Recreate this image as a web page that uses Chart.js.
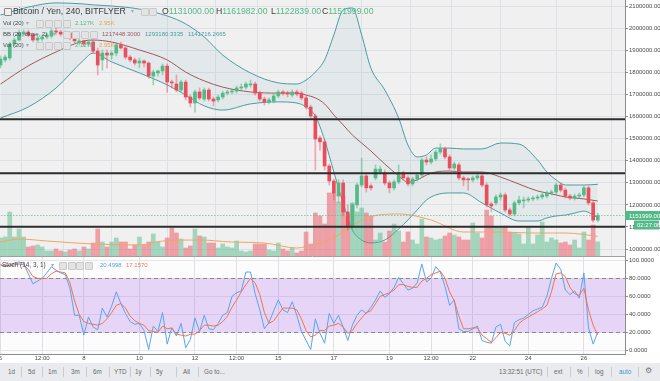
<!DOCTYPE html>
<html><head><meta charset="utf-8">
<script src="https://cdn.jsdelivr.net/npm/chart.js@4.4.0/dist/chart.umd.min.js"></script>
<style>
html,body{margin:0;padding:0;background:#fff;width:660px;height:381px;overflow:hidden;}
#wrap{position:relative;width:660px;height:381px;font-family:"Liberation Sans",Arial,sans-serif;}
canvas{position:absolute;left:0;}
#pc{top:0;}
#sc{top:257px;}
.t{position:absolute;white-space:nowrap;line-height:1;color:#4a4a4a;}
.s{font-size:6px;}
.ib{position:absolute;width:6px;height:6px;border:1px solid #c9c9c9;background:#e3e3e3;border-radius:1px;}
.tb{position:absolute;white-space:nowrap;line-height:1;color:#6a6a6a;font-size:6.3px;top:369px;}
.sep{position:absolute;top:367px;width:1px;height:10px;background:#c8cace;}
</style></head>
<body><div id="wrap">
<canvas id="pc" width="660" height="257"></canvas>
<canvas id="sc" width="660" height="105"></canvas>

<!-- legend row 1 -->
<div class="ib" style="left:4px;top:8px;background:#f0f0f0;border-color:#888;"></div>
<div class="t" style="left:13px;top:6.5px;font-size:8.7px;color:#3a3a3a;">Bitcoin / Yen, 240, BITFLYER</div>
<div class="t" style="left:131px;top:8px;font-size:6px;color:#aaa;">▾</div>
<div class="ib" style="left:141px;top:8px;"></div><div class="ib" style="left:149px;top:8px;"></div>
<div class="t" style="left:162px;top:6.5px;font-size:8.7px;color:#3a3a3a;">O<span style="color:#53b987">1131000.00</span></div>
<div class="t" style="left:216px;top:6.5px;font-size:8.7px;color:#3a3a3a;">H<span style="color:#53b987">1161982.00</span></div>
<div class="t" style="left:271px;top:6.5px;font-size:8.7px;color:#3a3a3a;">L<span style="color:#53b987">1122839.00</span></div>
<div class="t" style="left:322px;top:6.5px;font-size:8.7px;color:#3a3a3a;">C<span style="color:#53b987">1151999.00</span></div>
<!-- row 2 -->
<div class="t s" style="left:3px;top:20px;">Vol (20)</div>
<div class="t s" style="left:26px;top:20px;color:#aaa;">▾</div>
<div class="ib" style="left:36px;top:19.5px;"></div><div class="ib" style="left:45px;top:19.5px;"></div><div class="ib" style="left:54px;top:19.5px;"></div><div class="ib" style="left:63px;top:19.5px;"></div>
<div class="t s" style="left:75px;top:20px;color:#53b987;">2.127K</div>
<div class="t s" style="left:99px;top:20px;color:#f0a050;">2.95K</div>
<!-- row 3 -->
<div class="t s" style="left:3px;top:31px;">BB (20, close, 2)</div>
<div class="t s" style="left:53px;top:31px;color:#aaa;">▾</div>
<div class="ib" style="left:63px;top:30.5px;"></div><div class="ib" style="left:72px;top:30.5px;"></div><div class="ib" style="left:81px;top:30.5px;"></div><div class="ib" style="left:90px;top:30.5px;"></div>
<div class="t s" style="left:102px;top:31px;color:#a0585a;">1217448.3000</div>
<div class="t s" style="left:145px;top:31px;color:#4a9da3;">1293180.3335</div>
<div class="t s" style="left:188px;top:31px;color:#4a9da3;">1141716.2665</div>
<!-- row 4 -->
<div class="t s" style="left:3px;top:42px;">Vol (20)</div>
<div class="t s" style="left:26px;top:42px;color:#aaa;">▾</div>
<div class="ib" style="left:36px;top:41.5px;"></div><div class="ib" style="left:45px;top:41.5px;"></div><div class="ib" style="left:54px;top:41.5px;"></div><div class="ib" style="left:63px;top:41.5px;"></div>
<div class="t s" style="left:75px;top:42px;color:#53b987;">2.127K</div>
<div class="t s" style="left:99px;top:42px;color:#f0a050;">2.95K</div>
<!-- stoch legend -->
<div class="t" style="left:2px;top:262px;font-size:6.4px;">Stoch (14, 3, 1)</div>
<div class="t s" style="left:51px;top:262px;color:#aaa;">▾</div>
<div class="ib" style="left:59px;top:261.5px;"></div><div class="ib" style="left:67.5px;top:261.5px;"></div><div class="ib" style="left:76px;top:261.5px;"></div><div class="ib" style="left:84.5px;top:261.5px;"></div>
<div class="t s" style="left:100px;top:262px;color:#4fa3f2;">20.4998</div>
<div class="t s" style="left:126px;top:262px;color:#f07a4e;">17.1570</div>

<!-- toolbar -->
<div style="position:absolute;left:0;top:363px;width:660px;height:18px;background:#e9ebee;"></div>
<div class="tb" style="left:8px;">1d</div><div class="sep" style="left:21px;"></div>
<div class="tb" style="left:28px;">5d</div><div class="sep" style="left:42px;"></div>
<div class="tb" style="left:48px;">1m</div><div class="sep" style="left:63px;"></div>
<div class="tb" style="left:71px;">3m</div><div class="sep" style="left:86px;"></div>
<div class="tb" style="left:93px;">6m</div><div class="sep" style="left:109px;"></div>
<div class="tb" style="left:114px;">YTD</div><div class="sep" style="left:130px;"></div>
<div class="tb" style="left:135px;">1y</div><div class="sep" style="left:150px;"></div>
<div class="tb" style="left:156px;">5y</div><div class="sep" style="left:176px;"></div>
<div class="tb" style="left:183px;">All</div><div class="sep" style="left:198px;"></div>
<div class="tb" style="left:204px;">Go to...</div>
<div class="tb" style="left:499px;">13:32:51 (UTC)</div><div class="sep" style="left:547px;"></div>
<div class="tb" style="left:554px;">ext</div><div class="sep" style="left:570px;"></div>
<div class="tb" style="left:577px;">%</div><div class="sep" style="left:588px;"></div>
<div class="tb" style="left:595px;">log</div><div class="sep" style="left:611px;"></div>
<div class="tb" style="left:619px;color:#3a9ad9;">auto</div><div class="sep" style="left:638px;"></div>
<div class="tb" style="left:645px;top:367px;font-size:8px;color:#777;">⚙</div>
</div>
<script>
// ---------------- DATA ----------------
const opens = [1833000,1856000,1865000,1928000,1946000,1973000,1982000,1969000,1946000,1951000,
1960000,1964000,1987000,1982000,1973000,1978000,1960000,1933000,1942000,1928000,
1937000,1896000,1856000,1887000,1878000,1887000,1924000,1910000,1869000,1856000,
1842000,1851000,1842000,1783000,1797000,1806000,1828000,1756000,1747000,1720000,
1756000,1688000,1661000,1711000,1679000,1720000,1679000,1675000,1688000,1706000,
1711000,1715000,1729000,1733000,1743000,1747000,1706000,1679000,1666000,1670000,
1693000,1711000,1706000,1697000,1711000,1706000,1684000,1643000,1602000,1503000,
1485000,1376000,1308000,1240000,1299000,1168000,1100000,1200000,1290000,1331000,
1286000,1322000,1349000,1344000,1299000,1277000,1304000,1344000,1322000,1295000,
1317000,1335000,1403000,1394000,1408000,1439000,1453000,1417000,1367000,1381000,
1322000,1317000,1313000,1322000,1331000,1290000,1204000,1209000,1236000,1245000,
1177000,1159000,1209000,1218000,1222000,1227000,1231000,1236000,1240000,1254000,
1258000,1290000,1267000,1240000,1231000,1240000,1245000,1277000,1209000,1131000];
const closes = [1860000,1869000,1928000,1946000,1978000,1982000,1969000,1946000,1955000,1960000,
1969000,1987000,1982000,1973000,1978000,1955000,1942000,1942000,1928000,1937000,
1896000,1833000,1887000,1878000,1887000,1924000,1910000,1869000,1856000,1842000,
1851000,1842000,1783000,1801000,1806000,1828000,1756000,1752000,1720000,1756000,
1688000,1661000,1711000,1684000,1720000,1679000,1670000,1688000,1706000,1711000,
1715000,1729000,1733000,1747000,1747000,1706000,1679000,1666000,1675000,1693000,
1711000,1706000,1702000,1711000,1702000,1684000,1643000,1602000,1498000,1485000,
1376000,1308000,1254000,1299000,1168000,1100000,1200000,1290000,1331000,1277000,
1277000,1362000,1362000,1299000,1277000,1304000,1344000,1322000,1295000,1317000,
1335000,1403000,1394000,1408000,1439000,1453000,1417000,1367000,1385000,1322000,
1313000,1313000,1322000,1331000,1290000,1200000,1195000,1236000,1245000,1177000,
1159000,1209000,1222000,1222000,1227000,1231000,1236000,1245000,1254000,1258000,
1290000,1267000,1240000,1231000,1240000,1245000,1277000,1209000,1131000,1151999];
const highs = [1874000,1878000,1937000,1955000,1991000,1991000,1991000,1978000,1964000,1969000,
1978000,1996000,2000000,1991000,1987000,1982000,1969000,1951000,1946000,1946000,
1946000,1910000,1901000,1901000,1896000,1933000,1937000,1919000,1878000,1865000,
1865000,1856000,1847000,1810000,1810000,1838000,1838000,1765000,1788000,1765000,
1765000,1697000,1720000,1729000,1729000,1729000,1688000,1697000,1715000,1720000,
1724000,1738000,1747000,1756000,1765000,1756000,1715000,1688000,1684000,1702000,
1720000,1720000,1715000,1720000,1720000,1715000,1693000,1652000,1611000,1512000,
1494000,1385000,1317000,1313000,1313000,1200000,1209000,1299000,1412000,1340000,
1295000,1381000,1376000,1358000,1308000,1313000,1381000,1353000,1331000,1326000,
1344000,1412000,1417000,1426000,1448000,1476000,1462000,1426000,1394000,1390000,
1331000,1322000,1331000,1340000,1340000,1299000,1213000,1245000,1254000,1254000,
1186000,1218000,1240000,1236000,1236000,1240000,1245000,1254000,1263000,1267000,
1299000,1299000,1277000,1249000,1249000,1254000,1286000,1286000,1218000,1161982];
const lows = [1820000,1847000,1856000,1919000,1942000,1964000,1960000,1937000,1937000,1942000,
1951000,1955000,1973000,1964000,1964000,1946000,1933000,1924000,1919000,1919000,
1887000,1788000,1810000,1820000,1860000,1874000,1905000,1860000,1847000,1833000,
1820000,1824000,1774000,1743000,1783000,1788000,1710000,1729000,1711000,1711000,
1675000,1643000,1620000,1675000,1670000,1670000,1648000,1666000,1679000,1697000,
1702000,1706000,1720000,1724000,1733000,1697000,1670000,1652000,1657000,1661000,
1684000,1697000,1688000,1688000,1693000,1675000,1634000,1593000,1358000,1448000,
1358000,1290000,1222000,1209000,1150000,1086000,1091000,1186000,1281000,1258000,
1267000,1313000,1340000,1290000,1254000,1267000,1295000,1313000,1286000,1286000,
1308000,1326000,1381000,1385000,1399000,1430000,1408000,1358000,1358000,1313000,
1286000,1267000,1304000,1313000,1281000,1190000,1168000,1200000,1222000,1168000,
1150000,1150000,1200000,1186000,1213000,1218000,1222000,1227000,1231000,1245000,
1249000,1258000,1231000,1222000,1222000,1231000,1236000,1200000,1122000,1122839];
const volumes = [2700,2850,6600,2850,4050,2850,1350,1500,1650,1350,
750,750,1050,750,600,900,1050,750,1350,1050,
1950,4050,2100,1350,2100,2700,2100,2100,1050,1650,
2850,1650,2100,3300,2100,1350,2700,4200,3450,2550,
1200,1500,4050,3000,2850,1950,1950,1200,1800,1350,
1200,2250,750,600,750,1800,1800,1800,900,750,
1950,1050,750,1200,450,750,3600,1800,6450,6000,
4800,9450,9450,8100,9000,6150,7950,6600,7200,6450,
6000,2400,3450,2100,3750,4800,3750,2100,3600,2400,
1800,5550,2850,2700,2400,2550,3000,3450,3150,2850,
2400,2400,4950,3450,2700,6900,6000,4350,4350,4500,
3600,3450,3300,1800,4350,1800,3150,5100,2100,2700,
2400,1950,2100,1650,2400,1200,3600,2400,4650,2127];
const volMaIdx = [0,4,10,20,30,35,43,50,57,64,68,71,74,79,86,93,100,107,115,122,129];
const volMa    = [2100,2550,2250,1800,1650,2250,2400,2100,1950,1200,1800,2400,3600,5700,6300,5400,3600,3600,3450,3450,2950];
const bbIdx    = [0,6,12,18,20,24,30,36,40,44,48,54,60,64,66,68,70,72,74,76,78,80,83,86,88,90,92,94,97,100,104,108,112,116,118,120,122,124,126,129];
const bbUpper  = [2059000,2095000,2114000,2109000,2105000,2100000,2086000,2055000,2019000,1960000,1878000,1797000,1752000,1747000,1765000,1801000,1856000,1969000,2082000,2091000,1969000,1819000,1720000,1593000,1471000,1417000,1426000,1457000,1457000,1453000,1453000,1480000,1475000,1403000,1349000,1313000,1290000,1290000,1290000,1293180];
const bbMiddle = [1747000,1829000,1892000,1942000,1946000,1937000,1901000,1856000,1801000,1761000,1733000,1711000,1706000,1706000,1697000,1684000,1657000,1607000,1562000,1516000,1480000,1444000,1385000,1331000,1303000,1313000,1335000,1349000,1353000,1349000,1349000,1326000,1294000,1263000,1254000,1245000,1236000,1231000,1227000,1217448];
const bbLower  = [1593000,1643000,1729000,1856000,1887000,1847000,1797000,1743000,1697000,1648000,1629000,1657000,1666000,1661000,1643000,1602000,1494000,1349000,1209000,1086000,1041000,1028000,1041000,1091000,1132000,1177000,1222000,1245000,1254000,1254000,1209000,1163000,1127000,1127000,1141000,1150000,1154000,1163000,1172000,1141716];
const stochK = [95,93,95,97,98,97,85,74,77,80,
86,93,89,86,84,69,39,39,17,37,
26,23,47,37,49,65,52,41,32,29,
30,22,1,27,21,42,7,25,16,30,
3,12,36,21,39,24,23,30,39,42,
60,64,66,87,87,63,45,24,31,44,
56,45,42,54,39,21,11,1,35,19,
8,41,30,39,26,11,28,39,45,41,
48,56,66,59,63,70,81,74,67,69,
75,96,76,80,93,87,71,50,56,24,
21,21,24,27,11,9,8,26,29,10,
5,31,34,36,40,44,46,48,60,80,
97,90,67,62,66,58,86,25,7,20.4998];
const stochD = [95,94,94,95,96,95,90,82,80,80,
80,85,88,87,86,75,55,40,32,30,
29,28,30,35,42,50,52,47,38,33,
30,28,22,21,20,27,24,25,18,17,
16,18,18,22,28,28,27,28,32,38,
48,56,65,73,80,75,62,42,30,33,
40,47,47,47,45,35,22,15,17,22,
22,27,28,30,26,19,22,30,36,42,
44,52,60,62,64,67,73,73,71,70,
70,77,80,84,86,88,80,65,55,38,
24,24,25,25,17,13,9,14,20,19,
17,22,30,34,37,40,43,46,50,65,
85,86,82,70,63,61,69,45,28,17.157];
const hLevels = [1587000, 1343000, 1101000];
const priceTicks = [1000000,1100000,1200000,1300000,1400000,1500000,1600000,1700000,1800000,1900000,2000000,2100000];
const stochTicks = [0,20,40,60,80,100];
const timeTickIdx = [0,9,18,30,42,51,60,72,84,93,102,114,126];
const timeTickLabels = ['5','12:00','8','10','12','12:00','15','17','19','12:00','22','24','26'];
const countdown = '02:27:08';

// ---------------- STYLE ----------------
const FONT = '"Liberation Sans", Arial, sans-serif';
Chart.defaults.font.family = FONT;
const UP = '#53b987', DN = '#eb4d5c';
const GRID = '#dde0e5';
const XMIN = -0.108, XMAX = 134.88;
const N = opens.length;
const up = closes.map((c,i)=>c>=opens[i]);

const bgPlugin = (color) => ({
  id:'bg',
  beforeDraw(chart){
    const {ctx, chartArea:a} = chart;
    ctx.save(); ctx.fillStyle = color;
    ctx.fillRect(a.left, a.top, a.right-a.left, a.bottom-a.top);
    ctx.restore();
  }
});
const tagPlugin = {
  id:'tag',
  afterDraw(chart){
    const {ctx, chartArea:a, scales} = chart;
    const last = closes[N-1];
    const y = scales.y.getPixelForValue(last);
    ctx.save();
    // pane separator
    ctx.strokeStyle = '#a0a0a0'; ctx.lineWidth = 1;
    ctx.beginPath(); ctx.moveTo(0, a.bottom+0.5); ctx.lineTo(a.right, a.bottom+0.5); ctx.stroke();
    ctx.fillStyle = UP;
    ctx.fillRect(a.right, y-4.5, 660-a.right, 9);
    ctx.fillStyle = '#fff'; ctx.font = '6px ' + FONT; ctx.textBaseline = 'middle'; ctx.textAlign = 'left';
    ctx.fillText(last.toFixed(2), a.right+4, y+0.5);
    ctx.fillStyle = UP;
    ctx.fillRect(a.right+9, y+5, 660-a.right-10, 9);
    ctx.fillStyle = '#fff';
    ctx.fillText(countdown, a.right+12, y+10);
    ctx.restore();
  }
};
const bandPlugin = {
  id:'band',
  beforeDatasetsDraw(chart){
    const {ctx, chartArea:a, scales} = chart;
    const y80 = scales.y.getPixelForValue(80), y20 = scales.y.getPixelForValue(20);
    ctx.save();
    ctx.fillStyle = 'rgba(150,60,235,0.2)';
    ctx.fillRect(a.left, y80, a.right-a.left, y20-y80);
    ctx.strokeStyle = '#8a8a8a'; ctx.lineWidth = 1; ctx.setLineDash([4,3]);
    [y80,y20].forEach(y=>{ctx.beginPath(); ctx.moveTo(a.left, Math.round(y)+0.5); ctx.lineTo(a.right, Math.round(y)+0.5); ctx.stroke();});
    ctx.restore();
  }
};

const pts = (idx, vals) => idx.map((x,k)=>({x, y:vals[k]}));
const lineDS = (data, color, order, extra) => Object.assign({type:'line', data, borderColor:color, borderWidth:1, pointRadius:0, order, cubicInterpolationMode:'monotone', clip:0}, extra||{});

new Chart(document.getElementById('pc'), {
  type:'bar',
  data:{ datasets:[
    lineDS(pts(bbIdx,bbUpper), '#4a9da3', 20, {fill:{target:'+1'}, backgroundColor:'rgba(74,157,163,0.08)'}),
    lineDS(pts(bbIdx,bbLower), '#4a9da3', 19),
    {type:'bar', yAxisID:'yv', data: volumes.map((v,i)=>({x:i,y:v})), backgroundColor: up.map(u=>u?'rgba(83,185,135,0.5)':'rgba(235,77,92,0.5)'), barThickness:4, grouped:false, order:18},
    lineDS(pts(volMaIdx,volMa), '#f5a55e', 17, {yAxisID:'yv'}),
    lineDS(pts(bbIdx,bbMiddle), '#a0585a', 16),
    {type:'bar', data: lows.map((l,i)=>({x:i, y:[l, highs[i]]})), backgroundColor: up.map(u=>u?'rgba(83,185,135,0.55)':'rgba(235,77,92,0.45)'), barThickness:1, grouped:false, order:5},
    {type:'bar', data: opens.map((o,i)=>({x:i, y:[o, closes[i]]})), backgroundColor: up.map(u=>u?UP:DN), barThickness:3, minBarLength:1, grouped:false, order:4},
    ...hLevels.map(L => lineDS([{x:XMIN-1,y:L},{x:XMAX+1,y:L}], '#2d2d2d', 3, {borderWidth:2, cubicInterpolationMode:'default'})),
    lineDS([{x:XMIN-1,y:closes[N-1]},{x:XMAX+1,y:closes[N-1]}], UP, 2, {borderDash:[1,2]})
  ]},
  options:{
    animation:false, responsive:false, devicePixelRatio:1, events:[],
    layout:{padding:{left:0,right:0,top:0,bottom:1}},
    plugins:{legend:{display:false}, tooltip:{enabled:false}},
    scales:{
      x:{type:'linear', min:XMIN, max:XMAX, offset:false,
         grid:{color:GRID, drawTicks:false}, border:{display:false},
         ticks:{display:false},
         afterBuildTicks:s=>{s.ticks = timeTickIdx.map(v=>({value:v}));},
         afterFit:s=>{s.height=0; s.paddingLeft=0; s.paddingRight=0;}},
      y:{type:'linear', position:'right', min:968750, max:2127150,
         grid:{color:GRID, tickLength:3, tickColor:'#8c8c8c'}, border:{color:'#8c8c8c'},
         ticks:{font:{size:6}, color:'#4a4a4a', padding:1, callback:v=>Number(v).toFixed(2)},
         afterBuildTicks:s=>{s.ticks = priceTicks.map(v=>({value:v}));},
         afterFit:s=>{s.width=35; s.paddingTop=0; s.paddingBottom=0;}},
      yv:{type:'linear', display:false, min:0, max:38400}
    }
  },
  plugins:[bgPlugin('#f0f0f0'), tagPlugin]
});

new Chart(document.getElementById('sc'), {
  type:'line',
  data:{ datasets:[
    lineDS(stochK.map((v,i)=>({x:i,y:v})), '#55a6f5', 2, {cubicInterpolationMode:'default', tension:0}),
    lineDS(stochD.map((v,i)=>({x:i,y:v})), '#f3734c', 1, {cubicInterpolationMode:'default', tension:0})
  ]},
  options:{
    animation:false, responsive:false, devicePixelRatio:1, events:[],
    layout:{padding:0},
    plugins:{legend:{display:false}, tooltip:{enabled:false}},
    scales:{
      x:{type:'linear', min:XMIN, max:XMAX, offset:false,
         grid:{color:GRID, drawTicks:false}, border:{color:'#8c8c8c'},
         ticks:{font:{size:6}, color:'#4a4a4a', padding:1, autoSkip:false, maxRotation:0, callback:(v,i)=>timeTickLabels[i]},
         afterBuildTicks:s=>{s.ticks = timeTickIdx.map(v=>({value:v}));},
         afterFit:s=>{s.height=8; s.paddingLeft=0; s.paddingRight=0;}},
      y:{type:'linear', position:'right', min:-4, max:103.7,
         grid:{color:'#e6e6ea', tickLength:3, tickColor:'#8c8c8c'}, border:{color:'#8c8c8c'},
         ticks:{font:{size:6}, color:'#4a4a4a', padding:1, callback:v=>Number(v).toFixed(4)},
         afterBuildTicks:s=>{s.ticks = stochTicks.map(v=>({value:v}));},
         afterFit:s=>{s.width=35; s.paddingTop=0; s.paddingBottom=0;}}
    }
  },
  plugins:[bgPlugin('#fcfcfc'), bandPlugin]
});
</script>
</body></html>
